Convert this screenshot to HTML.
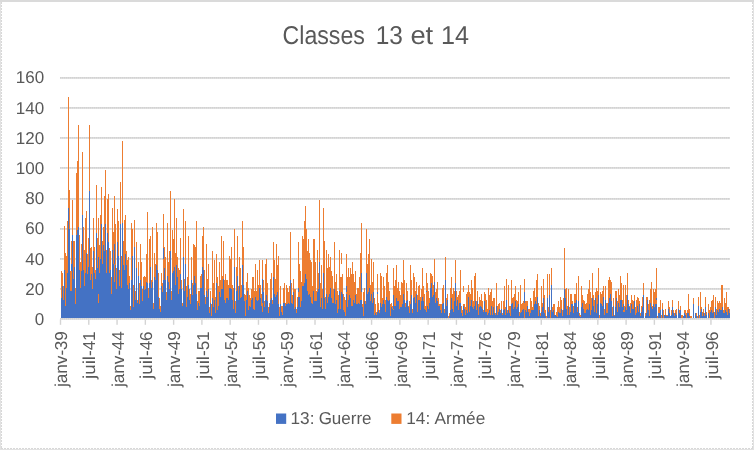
<!DOCTYPE html>
<html lang="fr"><head><meta charset="utf-8"><title>Classes 13 et 14</title>
<style>html,body{margin:0;padding:0;background:#fff}svg{display:block}text{font-family:"Liberation Sans", sans-serif;fill:#595959}</style></head><body>
<svg width="754" height="450" viewBox="0 0 754 450" shape-rendering="crispEdges">
<rect x="0" y="0" width="754" height="450" fill="#fff"/>
<defs><pattern id="dot" x="0" y="0" width="2" height="2" patternUnits="userSpaceOnUse"><rect x="0" y="0" width="1" height="1" fill="#D2D2D2"/><rect x="1" y="0" width="1" height="1" fill="#DBDBDB"/><rect x="0" y="1" width="1" height="1" fill="#DADADA"/><rect x="1" y="1" width="1" height="1" fill="#E1E1E1"/></pattern><pattern id="dotv" x="0" y="0" width="2" height="2" patternUnits="userSpaceOnUse"><rect x="0" y="0" width="1" height="1" fill="#D2D2D2"/><rect x="0" y="1" width="1" height="1" fill="#DBDBDB"/><rect x="1" y="0" width="1" height="1" fill="#DADADA"/><rect x="1" y="1" width="1" height="1" fill="#E1E1E1"/></pattern></defs>
<rect x="60" y="76" width="670" height="2" fill="url(#dot)" transform="translate(0 1)"/>
<rect x="60" y="106" width="670" height="2" fill="url(#dot)" transform="translate(0 1)"/>
<rect x="60" y="136" width="670" height="2" fill="url(#dot)" transform="translate(0 1)"/>
<rect x="60" y="166" width="670" height="2" fill="url(#dot)" transform="translate(0 1)"/>
<rect x="60" y="198" width="670" height="2" fill="url(#dot)"/>
<rect x="60" y="228" width="670" height="2" fill="url(#dot)"/>
<rect x="60" y="258" width="670" height="2" fill="url(#dot)"/>
<rect x="60" y="288" width="670" height="2" fill="url(#dot)"/>
<path fill="#4472C4" d="M61 298h1v20h-1zM62 292h1v26h-1zM62 286h1v6h-1zM63 300h1v18h-1zM64 292h1v26h-1zM64 270h1v22h-1zM65 306h1v12h-1zM66 292h1v26h-1zM66 288h1v4h-1zM67 292h1v26h-1zM67 273h1v19h-1zM68 292h1v26h-1zM68 264h1v28h-1zM68 236h1v28h-1zM68 208h1v28h-1zM69 292h1v26h-1zM69 264h1v28h-1zM69 236h1v28h-1zM69 229h1v7h-1zM70 292h1v26h-1zM70 291h1v1h-1zM71 292h1v26h-1zM71 291h1v1h-1zM71 264h1v7h-1zM72 292h1v26h-1zM72 264h1v28h-1zM72 236h1v28h-1zM72 235h1v1h-1zM73 292h1v26h-1zM73 279h1v13h-1zM74 292h1v26h-1zM74 267h1v25h-1zM75 304h1v14h-1zM76 292h1v26h-1zM76 264h1v28h-1zM76 236h1v28h-1zM76 235h1v1h-1zM77 292h1v26h-1zM77 264h1v28h-1zM77 236h1v28h-1zM77 230h1v6h-1zM78 292h1v26h-1zM78 264h1v28h-1zM78 236h1v28h-1zM78 227h1v9h-1zM79 292h1v26h-1zM79 270h1v22h-1zM80 292h1v26h-1zM80 288h1v4h-1zM81 292h1v26h-1zM81 271h1v21h-1zM82 292h1v26h-1zM82 264h1v28h-1zM82 236h1v28h-1zM82 215h1v21h-1zM83 292h1v26h-1zM83 270h1v22h-1zM84 292h1v26h-1zM84 286h1v6h-1zM85 292h1v26h-1zM85 273h1v19h-1zM86 292h1v26h-1zM86 264h1v28h-1zM86 253h1v11h-1zM87 292h1v26h-1zM87 274h1v18h-1zM88 292h1v26h-1zM88 267h1v25h-1zM89 292h1v26h-1zM89 264h1v28h-1zM89 236h1v28h-1zM89 208h1v28h-1zM89 191h1v17h-1zM90 292h1v26h-1zM90 280h1v12h-1zM91 292h1v26h-1zM91 274h1v18h-1zM92 292h1v26h-1zM92 289h1v3h-1zM93 292h1v26h-1zM93 264h1v28h-1zM93 251h1v13h-1zM94 292h1v26h-1zM94 273h1v19h-1zM95 292h1v26h-1zM95 279h1v13h-1zM96 292h1v26h-1zM96 264h1v28h-1zM96 236h1v28h-1zM96 233h1v3h-1zM97 292h1v26h-1zM97 268h1v24h-1zM98 303h1v15h-1zM98 292h1v2h-1zM98 264h1v28h-1zM98 257h1v7h-1zM99 292h1v26h-1zM99 273h1v19h-1zM100 292h1v26h-1zM100 264h1v28h-1zM100 259h1v5h-1zM101 292h1v26h-1zM101 264h1v28h-1zM101 236h1v28h-1zM101 224h1v12h-1zM102 292h1v26h-1zM102 264h1v28h-1zM103 292h1v26h-1zM103 264h1v28h-1zM103 245h1v19h-1zM104 292h1v26h-1zM104 264h1v28h-1zM104 251h1v13h-1zM105 292h1v26h-1zM105 264h1v28h-1zM105 236h1v28h-1zM105 224h1v12h-1zM106 292h1v26h-1zM106 273h1v19h-1zM107 292h1v26h-1zM107 264h1v28h-1zM107 236h1v28h-1zM107 233h1v3h-1zM108 292h1v26h-1zM108 264h1v28h-1zM108 242h1v22h-1zM109 292h1v26h-1zM109 273h1v19h-1zM110 292h1v26h-1zM110 270h1v22h-1zM111 294h1v24h-1zM112 292h1v26h-1zM112 264h1v28h-1zM112 250h1v14h-1zM113 292h1v26h-1zM113 264h1v28h-1zM114 292h1v26h-1zM114 282h1v10h-1zM114 244h1v20h-1zM115 292h1v26h-1zM115 265h1v27h-1zM116 292h1v26h-1zM116 289h1v3h-1zM117 292h1v26h-1zM117 264h1v28h-1zM117 242h1v22h-1zM118 292h1v26h-1zM118 264h1v28h-1zM118 256h1v8h-1zM119 292h1v26h-1zM119 286h1v6h-1zM120 292h1v26h-1zM120 264h1v28h-1zM120 236h1v28h-1zM120 224h1v12h-1zM121 292h1v26h-1zM121 288h1v4h-1zM122 292h1v26h-1zM122 264h1v28h-1zM122 236h1v28h-1zM122 223h1v13h-1zM123 292h1v26h-1zM123 265h1v27h-1zM124 292h1v26h-1zM124 270h1v22h-1zM125 292h1v26h-1zM125 264h1v28h-1zM125 254h1v10h-1zM126 292h1v26h-1zM126 265h1v27h-1zM127 292h1v26h-1zM127 285h1v7h-1zM128 292h1v26h-1zM128 289h1v3h-1zM129 292h1v26h-1zM129 283h1v9h-1zM130 310h1v8h-1zM131 292h1v26h-1zM131 280h1v12h-1zM132 292h1v26h-1zM132 264h1v28h-1zM132 256h1v8h-1zM133 307h1v11h-1zM134 292h1v26h-1zM134 264h1v28h-1zM134 247h1v17h-1zM135 300h1v18h-1zM136 292h1v26h-1zM136 268h1v24h-1zM137 303h1v15h-1zM138 292h1v26h-1zM138 276h1v16h-1zM139 304h1v14h-1zM140 292h1v26h-1zM140 280h1v12h-1zM141 292h1v26h-1zM141 286h1v6h-1zM142 301h1v17h-1zM143 292h1v26h-1zM143 286h1v6h-1zM144 292h1v26h-1zM144 290h1v2h-1zM145 292h1v26h-1zM145 289h1v3h-1zM146 292h1v26h-1zM146 282h1v10h-1zM147 292h1v26h-1zM147 283h1v9h-1zM148 298h1v20h-1zM149 292h1v26h-1zM149 283h1v9h-1zM150 292h1v26h-1zM150 267h1v25h-1zM151 292h1v26h-1zM151 288h1v4h-1zM152 292h1v26h-1zM152 282h1v10h-1zM153 309h1v9h-1zM154 292h1v26h-1zM154 277h1v15h-1zM155 292h1v26h-1zM155 280h1v12h-1zM156 292h1v26h-1zM156 265h1v27h-1zM157 292h1v26h-1zM157 270h1v22h-1zM158 297h1v21h-1zM159 309h1v9h-1zM160 312h1v6h-1zM161 292h1v26h-1zM161 286h1v6h-1zM162 292h1v26h-1zM163 292h1v26h-1zM163 280h1v12h-1zM163 248h1v11h-1zM164 292h1v26h-1zM164 268h1v24h-1zM165 292h1v26h-1zM165 280h1v12h-1zM166 300h1v18h-1zM167 292h1v26h-1zM167 276h1v16h-1zM168 292h1v26h-1zM168 282h1v10h-1zM169 292h1v26h-1zM169 289h1v3h-1zM170 292h1v26h-1zM170 264h1v28h-1zM170 251h1v13h-1zM171 300h1v18h-1zM172 292h1v26h-1zM172 273h1v19h-1zM173 292h1v26h-1zM173 271h1v21h-1zM174 292h1v26h-1zM174 267h1v25h-1zM175 292h1v26h-1zM175 285h1v7h-1zM176 292h1v26h-1zM176 265h1v27h-1zM177 292h1v26h-1zM177 277h1v15h-1zM178 294h1v24h-1zM179 292h1v26h-1zM179 289h1v3h-1zM180 292h1v26h-1zM180 274h1v18h-1zM181 292h1v26h-1zM181 289h1v3h-1zM182 306h1v12h-1zM183 292h1v26h-1zM183 264h1v28h-1zM183 257h1v7h-1zM184 292h1v26h-1zM184 291h1v1h-1zM185 292h1v26h-1zM185 264h1v28h-1zM186 307h1v11h-1zM187 297h1v21h-1zM188 292h1v26h-1zM188 285h1v7h-1zM189 300h1v18h-1zM190 304h1v14h-1zM191 292h1v26h-1zM191 280h1v12h-1zM192 295h1v23h-1zM193 292h1v26h-1zM193 285h1v7h-1zM194 292h1v26h-1zM194 276h1v16h-1zM195 292h1v26h-1zM195 283h1v9h-1zM196 294h1v24h-1zM197 310h1v8h-1zM198 303h1v15h-1zM199 306h1v12h-1zM200 292h1v26h-1zM200 288h1v4h-1zM201 292h1v26h-1zM201 288h1v4h-1zM202 292h1v26h-1zM202 267h1v25h-1zM203 292h1v26h-1zM203 270h1v22h-1zM204 295h1v23h-1zM205 304h1v14h-1zM206 292h1v26h-1zM206 291h1v1h-1zM207 297h1v21h-1zM208 292h1v26h-1zM208 289h1v3h-1zM209 313h1v5h-1zM210 303h1v15h-1zM211 316h1v2h-1zM212 298h1v20h-1zM213 307h1v11h-1zM214 300h1v18h-1zM215 313h1v5h-1zM216 292h1v26h-1zM216 283h1v9h-1zM217 310h1v8h-1zM218 306h1v12h-1zM219 292h1v26h-1zM220 297h1v21h-1zM221 292h1v26h-1zM221 289h1v3h-1zM222 292h1v26h-1zM222 289h1v3h-1zM223 292h1v26h-1zM223 279h1v13h-1zM224 300h1v18h-1zM225 303h1v15h-1zM226 298h1v20h-1zM227 298h1v20h-1zM228 300h1v18h-1zM229 292h1v26h-1zM229 288h1v4h-1zM230 292h1v26h-1zM230 288h1v4h-1zM231 292h1v26h-1zM231 289h1v3h-1zM232 300h1v18h-1zM233 309h1v9h-1zM234 292h1v26h-1zM234 267h1v25h-1zM235 313h1v5h-1zM236 292h1v26h-1zM236 291h1v1h-1zM237 292h1v26h-1zM237 276h1v16h-1zM238 300h1v18h-1zM239 292h1v26h-1zM239 286h1v6h-1zM240 298h1v20h-1zM241 297h1v21h-1zM242 292h1v26h-1zM242 265h1v27h-1zM243 292h1v26h-1zM243 285h1v7h-1zM244 301h1v17h-1zM245 316h1v2h-1zM246 300h1v18h-1zM247 292h1v26h-1zM247 291h1v1h-1zM248 310h1v8h-1zM249 306h1v12h-1zM250 307h1v11h-1zM251 300h1v18h-1zM252 298h1v20h-1zM253 309h1v9h-1zM254 310h1v8h-1zM255 297h1v21h-1zM256 300h1v18h-1zM257 301h1v17h-1zM258 300h1v18h-1zM259 292h1v26h-1zM259 288h1v4h-1zM260 298h1v20h-1zM261 306h1v12h-1zM262 312h1v6h-1zM262 292h1v11h-1zM262 279h1v13h-1zM263 292h1v26h-1zM264 307h1v11h-1zM265 300h1v18h-1zM266 295h1v23h-1zM267 301h1v17h-1zM268 313h1v5h-1zM269 307h1v11h-1zM270 300h1v18h-1zM271 298h1v20h-1zM272 304h1v14h-1zM273 292h1v26h-1zM273 277h1v15h-1zM274 294h1v24h-1zM275 297h1v21h-1zM276 295h1v23h-1zM277 292h1v26h-1zM278 304h1v14h-1zM279 316h1v2h-1zM280 304h1v14h-1zM281 312h1v6h-1zM282 315h1v3h-1zM283 303h1v15h-1zM284 303h1v15h-1zM285 306h1v12h-1zM286 304h1v14h-1zM287 304h1v14h-1zM288 303h1v15h-1zM289 304h1v14h-1zM290 292h1v26h-1zM290 280h1v12h-1zM291 303h1v15h-1zM292 304h1v14h-1zM293 292h1v26h-1zM294 309h1v9h-1zM295 307h1v11h-1zM296 313h1v5h-1zM297 307h1v11h-1zM298 297h1v21h-1zM298 288h1v4h-1zM299 297h1v21h-1zM300 307h1v11h-1zM301 301h1v17h-1zM302 292h1v26h-1zM302 286h1v6h-1zM303 292h1v26h-1zM303 286h1v6h-1zM304 292h1v26h-1zM304 283h1v9h-1zM305 292h1v26h-1zM305 274h1v18h-1zM306 292h1v26h-1zM306 279h1v13h-1zM307 292h1v26h-1zM307 291h1v1h-1zM308 295h1v23h-1zM309 294h1v24h-1zM310 297h1v21h-1zM311 303h1v15h-1zM312 304h1v14h-1zM313 292h1v26h-1zM313 291h1v1h-1zM314 301h1v17h-1zM315 301h1v17h-1zM316 301h1v17h-1zM317 292h1v26h-1zM318 292h1v26h-1zM318 289h1v3h-1zM319 292h1v26h-1zM319 264h1v28h-1zM319 262h1v2h-1zM320 307h1v11h-1zM321 298h1v20h-1zM322 309h1v9h-1zM323 292h1v26h-1zM323 273h1v19h-1zM324 298h1v20h-1zM325 309h1v9h-1zM326 294h1v24h-1zM327 303h1v15h-1zM328 297h1v21h-1zM329 294h1v24h-1zM330 292h1v26h-1zM330 288h1v4h-1zM331 298h1v20h-1zM332 303h1v15h-1zM333 303h1v15h-1zM334 292h1v26h-1zM334 289h1v3h-1zM335 304h1v14h-1zM336 300h1v18h-1zM337 313h1v5h-1zM338 309h1v9h-1zM339 292h1v26h-1zM339 291h1v1h-1zM340 309h1v9h-1zM341 292h1v26h-1zM342 294h1v24h-1zM343 310h1v8h-1zM344 312h1v6h-1zM345 316h1v2h-1zM346 294h1v24h-1zM346 286h1v6h-1zM347 307h1v11h-1zM348 300h1v18h-1zM349 295h1v23h-1zM350 298h1v20h-1zM351 306h1v12h-1zM352 306h1v12h-1zM353 300h1v18h-1zM354 303h1v15h-1zM355 295h1v23h-1zM356 304h1v14h-1zM357 304h1v14h-1zM358 303h1v15h-1zM359 304h1v14h-1zM360 300h1v18h-1zM361 300h1v18h-1zM361 273h1v19h-1zM362 307h1v11h-1zM363 316h1v2h-1zM364 301h1v17h-1zM365 304h1v14h-1zM366 292h1v26h-1zM366 273h1v19h-1zM367 294h1v24h-1zM368 292h1v26h-1zM369 292h1v26h-1zM369 288h1v4h-1zM370 301h1v17h-1zM371 294h1v24h-1zM372 303h1v15h-1zM373 292h1v26h-1zM374 315h1v3h-1zM375 313h1v5h-1zM376 315h1v3h-1zM377 312h1v6h-1zM377 292h1v2h-1zM378 310h1v8h-1zM379 313h1v5h-1zM380 303h1v15h-1zM381 307h1v11h-1zM382 304h1v14h-1zM383 300h1v18h-1zM384 304h1v14h-1zM385 312h1v6h-1zM386 297h1v21h-1zM387 300h1v18h-1zM388 301h1v17h-1zM389 300h1v18h-1zM390 316h1v2h-1zM391 307h1v11h-1zM392 309h1v9h-1zM393 310h1v8h-1zM393 295h1v14h-1zM394 306h1v12h-1zM395 306h1v12h-1zM396 298h1v20h-1zM397 301h1v17h-1zM398 301h1v17h-1zM399 309h1v9h-1zM400 307h1v11h-1zM401 307h1v11h-1zM402 304h1v14h-1zM403 294h1v24h-1zM404 300h1v18h-1zM405 307h1v11h-1zM406 301h1v17h-1zM407 300h1v18h-1zM408 307h1v11h-1zM409 313h1v5h-1zM410 304h1v14h-1zM411 295h1v23h-1zM412 313h1v5h-1zM413 298h1v20h-1zM414 297h1v21h-1zM415 303h1v15h-1zM416 294h1v24h-1zM417 312h1v6h-1zM418 300h1v18h-1zM419 300h1v18h-1zM420 310h1v8h-1zM421 301h1v17h-1zM422 297h1v21h-1zM423 301h1v17h-1zM424 309h1v9h-1zM425 310h1v8h-1zM426 312h1v6h-1zM426 291h1v1h-1zM427 306h1v12h-1zM428 309h1v9h-1zM429 303h1v15h-1zM430 292h1v26h-1zM430 288h1v4h-1zM431 292h1v26h-1zM431 283h1v9h-1zM432 297h1v21h-1zM433 295h1v23h-1zM434 292h1v26h-1zM434 282h1v10h-1zM435 303h1v15h-1zM436 298h1v20h-1zM437 301h1v17h-1zM438 306h1v12h-1zM439 306h1v12h-1zM440 310h1v8h-1zM441 313h1v5h-1zM442 304h1v14h-1zM443 303h1v15h-1zM444 313h1v5h-1zM445 292h1v26h-1zM445 280h1v12h-1zM446 306h1v12h-1zM447 300h1v18h-1zM449 316h1v2h-1zM450 310h1v8h-1zM451 298h1v20h-1zM452 309h1v9h-1zM453 312h1v6h-1zM454 301h1v17h-1zM455 292h1v26h-1zM455 283h1v9h-1zM456 306h1v12h-1zM457 300h1v18h-1zM458 310h1v8h-1zM459 303h1v15h-1zM460 303h1v15h-1zM461 313h1v5h-1zM462 316h1v2h-1zM463 306h1v12h-1zM464 309h1v9h-1zM465 315h1v3h-1zM466 310h1v8h-1zM467 313h1v5h-1zM468 297h1v21h-1zM469 312h1v6h-1zM470 306h1v12h-1zM471 300h1v18h-1zM472 307h1v11h-1zM473 309h1v9h-1zM474 306h1v12h-1zM475 301h1v17h-1zM476 310h1v8h-1zM477 301h1v17h-1zM478 315h1v3h-1zM479 307h1v11h-1zM480 306h1v12h-1zM481 307h1v11h-1zM482 309h1v9h-1zM483 312h1v6h-1zM484 301h1v17h-1zM485 312h1v6h-1zM486 312h1v6h-1zM487 315h1v3h-1zM488 313h1v5h-1zM489 310h1v8h-1zM490 315h1v3h-1zM491 306h1v12h-1zM492 315h1v3h-1zM493 307h1v11h-1zM494 313h1v5h-1zM495 315h1v3h-1zM496 306h1v12h-1zM497 315h1v3h-1zM498 312h1v6h-1zM499 309h1v9h-1zM500 313h1v5h-1zM501 309h1v9h-1zM502 315h1v3h-1zM503 310h1v8h-1zM504 309h1v9h-1zM505 315h1v3h-1zM506 300h1v18h-1zM507 313h1v5h-1zM508 310h1v8h-1zM509 313h1v5h-1zM510 316h1v2h-1zM511 304h1v14h-1zM512 303h1v15h-1zM513 309h1v9h-1zM514 307h1v11h-1zM515 301h1v17h-1zM516 309h1v9h-1zM517 307h1v11h-1zM518 304h1v14h-1zM519 316h1v2h-1zM520 313h1v5h-1zM521 312h1v6h-1zM522 310h1v8h-1zM523 309h1v9h-1zM524 292h1v11h-1zM525 310h1v8h-1zM526 312h1v6h-1zM527 306h1v12h-1zM528 312h1v6h-1zM529 316h1v2h-1zM530 313h1v5h-1zM531 310h1v8h-1zM532 310h1v8h-1zM533 310h1v8h-1zM534 304h1v14h-1zM535 301h1v17h-1zM536 304h1v14h-1zM537 297h1v21h-1zM538 316h1v2h-1zM539 310h1v8h-1zM540 316h1v2h-1zM541 312h1v6h-1zM542 307h1v11h-1zM543 298h1v20h-1zM544 313h1v5h-1zM545 316h1v2h-1zM547 298h1v20h-1zM548 312h1v6h-1zM549 295h1v23h-1zM551 292h1v26h-1zM551 285h1v7h-1zM552 312h1v6h-1zM553 310h1v8h-1zM554 315h1v3h-1zM555 315h1v3h-1zM556 316h1v2h-1zM557 317h1v1h-1zM558 312h1v6h-1zM559 313h1v5h-1zM560 313h1v5h-1zM561 309h1v9h-1zM562 316h1v2h-1zM563 310h1v8h-1zM564 292h1v26h-1zM564 289h1v3h-1zM565 298h1v20h-1zM566 309h1v9h-1zM567 315h1v3h-1zM568 306h1v12h-1zM569 315h1v3h-1zM570 312h1v6h-1zM571 304h1v14h-1zM572 304h1v14h-1zM573 313h1v5h-1zM574 303h1v15h-1zM575 303h1v15h-1zM576 300h1v18h-1zM577 312h1v6h-1zM578 301h1v17h-1zM579 316h1v2h-1zM580 317h1v1h-1zM581 307h1v11h-1zM582 303h1v15h-1zM583 309h1v9h-1zM584 313h1v5h-1zM585 313h1v5h-1zM586 310h1v8h-1zM587 309h1v9h-1zM588 310h1v8h-1zM589 304h1v14h-1zM590 315h1v3h-1zM591 310h1v8h-1zM592 298h1v20h-1zM593 306h1v12h-1zM594 312h1v6h-1zM595 298h1v20h-1zM596 313h1v5h-1zM597 304h1v14h-1zM598 295h1v23h-1zM600 303h1v15h-1zM601 304h1v14h-1zM602 306h1v12h-1zM603 297h1v21h-1zM604 315h1v3h-1zM605 300h1v18h-1zM606 313h1v5h-1zM607 313h1v5h-1zM608 303h1v15h-1zM609 298h1v20h-1zM610 294h1v24h-1zM611 301h1v17h-1zM612 316h1v2h-1zM613 306h1v12h-1zM614 316h1v2h-1zM615 307h1v11h-1zM616 298h1v20h-1zM617 312h1v6h-1zM618 303h1v15h-1zM619 307h1v11h-1zM620 300h1v18h-1zM621 300h1v18h-1zM622 307h1v11h-1zM623 312h1v6h-1zM623 304h1v6h-1zM624 312h1v6h-1zM625 307h1v11h-1zM626 310h1v8h-1zM627 295h1v23h-1zM628 304h1v14h-1zM629 307h1v11h-1zM630 313h1v5h-1zM631 304h1v14h-1zM632 309h1v9h-1zM633 309h1v9h-1zM634 301h1v17h-1zM635 315h1v3h-1zM636 313h1v5h-1zM637 306h1v12h-1zM638 312h1v6h-1zM639 304h1v14h-1zM640 316h1v2h-1zM641 312h1v6h-1zM642 307h1v11h-1zM643 295h1v23h-1zM645 316h1v2h-1zM646 313h1v5h-1zM647 300h1v18h-1zM648 310h1v8h-1zM649 316h1v2h-1zM650 303h1v15h-1zM651 307h1v11h-1zM652 309h1v9h-1zM653 304h1v14h-1zM654 307h1v11h-1zM655 304h1v14h-1zM656 304h1v14h-1zM656 298h1v2h-1zM658 313h1v5h-1zM659 313h1v5h-1zM660 310h1v8h-1zM662 309h1v9h-1zM664 315h1v3h-1zM665 315h1v3h-1zM666 316h1v2h-1zM667 316h1v2h-1zM668 309h1v9h-1zM669 313h1v5h-1zM670 316h1v2h-1zM671 315h1v3h-1zM672 307h1v11h-1zM673 313h1v5h-1zM674 316h1v2h-1zM675 313h1v5h-1zM676 315h1v3h-1zM678 309h1v9h-1zM679 313h1v5h-1zM680 310h1v8h-1zM683 316h1v2h-1zM684 313h1v5h-1zM685 315h1v3h-1zM687 313h1v5h-1zM688 313h1v5h-1zM689 316h1v2h-1zM693 304h1v14h-1zM695 313h1v5h-1zM696 316h1v2h-1zM698 306h1v12h-1zM700 312h1v6h-1zM701 309h1v9h-1zM702 316h1v2h-1zM703 313h1v5h-1zM704 316h1v2h-1zM705 307h1v11h-1zM706 315h1v3h-1zM708 313h1v5h-1zM710 312h1v6h-1zM711 310h1v8h-1zM712 313h1v5h-1zM713 312h1v6h-1zM715 307h1v11h-1zM716 315h1v3h-1zM717 310h1v8h-1zM718 312h1v6h-1zM719 309h1v9h-1zM720 310h1v8h-1zM721 310h1v8h-1zM722 307h1v11h-1zM723 313h1v5h-1zM724 313h1v5h-1zM725 310h1v8h-1zM726 312h1v6h-1zM727 315h1v3h-1zM728 309h1v9h-1zM729 313h1v5h-1z"/>
<path fill="#ED7D31" d="M61 292h1v6h-1zM61 271h1v21h-1zM62 273h1v13h-1zM63 292h1v8h-1zM63 286h1v6h-1zM64 264h1v6h-1zM64 236h1v28h-1zM64 226h1v10h-1zM65 292h1v14h-1zM65 264h1v28h-1zM65 253h1v11h-1zM66 264h1v24h-1zM66 256h1v8h-1zM67 264h1v9h-1zM67 236h1v28h-1zM67 221h1v15h-1zM68 180h1v28h-1zM68 124h1v56h-1zM68 97h1v27h-1zM69 208h1v21h-1zM69 190h1v18h-1zM70 271h1v20h-1zM71 271h1v20h-1zM71 241h1v23h-1zM72 208h1v27h-1zM72 200h1v8h-1zM73 264h1v15h-1zM73 241h1v23h-1zM74 264h1v3h-1zM74 241h1v23h-1zM75 292h1v12h-1zM75 288h1v4h-1zM76 208h1v27h-1zM76 180h1v28h-1zM76 173h1v7h-1zM77 208h1v22h-1zM77 180h1v28h-1zM77 161h1v19h-1zM78 208h1v19h-1zM78 180h1v28h-1zM78 125h1v55h-1zM79 264h1v6h-1zM79 236h1v28h-1zM79 235h1v1h-1zM80 264h1v24h-1zM80 262h1v2h-1zM81 264h1v7h-1zM81 244h1v20h-1zM82 208h1v7h-1zM82 180h1v28h-1zM82 152h1v28h-1zM83 264h1v6h-1zM83 236h1v28h-1zM83 227h1v9h-1zM84 264h1v22h-1zM84 250h1v14h-1zM85 264h1v9h-1zM85 236h1v28h-1zM85 218h1v18h-1zM86 236h1v17h-1zM86 211h1v25h-1zM87 264h1v10h-1zM87 254h1v10h-1zM88 264h1v3h-1zM88 238h1v26h-1zM89 180h1v11h-1zM89 125h1v55h-1zM90 264h1v16h-1zM90 248h1v16h-1zM91 264h1v10h-1zM91 247h1v17h-1zM92 267h1v22h-1zM93 236h1v15h-1zM93 218h1v18h-1zM94 264h1v9h-1zM94 247h1v17h-1zM95 270h1v9h-1zM96 208h1v25h-1zM96 185h1v23h-1zM97 264h1v4h-1zM97 238h1v26h-1zM98 294h1v9h-1zM98 236h1v21h-1zM98 218h1v18h-1zM99 264h1v9h-1zM99 245h1v19h-1zM100 236h1v23h-1zM100 215h1v21h-1zM101 208h1v16h-1zM101 187h1v21h-1zM102 241h1v23h-1zM103 236h1v9h-1zM103 227h1v9h-1zM104 236h1v15h-1zM104 208h1v28h-1zM104 196h1v12h-1zM105 208h1v16h-1zM105 180h1v28h-1zM105 170h1v10h-1zM106 264h1v9h-1zM106 250h1v14h-1zM107 208h1v25h-1zM107 199h1v9h-1zM108 236h1v6h-1zM108 208h1v28h-1zM108 194h1v14h-1zM109 264h1v9h-1zM109 248h1v16h-1zM110 264h1v6h-1zM110 251h1v13h-1zM111 292h1v2h-1zM111 277h1v15h-1zM112 236h1v14h-1zM112 208h1v28h-1zM113 236h1v28h-1zM113 232h1v4h-1zM114 264h1v18h-1zM114 236h1v8h-1zM114 208h1v28h-1zM114 196h1v12h-1zM115 264h1v1h-1zM115 236h1v28h-1zM115 224h1v12h-1zM116 268h1v21h-1zM117 236h1v6h-1zM117 209h1v27h-1zM118 236h1v20h-1zM118 221h1v15h-1zM119 270h1v16h-1zM120 208h1v16h-1zM120 182h1v26h-1zM121 264h1v24h-1zM121 256h1v8h-1zM122 208h1v15h-1zM122 180h1v28h-1zM122 141h1v39h-1zM123 264h1v1h-1zM123 241h1v23h-1zM124 264h1v6h-1zM124 236h1v28h-1zM124 220h1v16h-1zM125 236h1v18h-1zM125 215h1v21h-1zM126 264h1v1h-1zM126 251h1v13h-1zM127 264h1v21h-1zM127 260h1v4h-1zM128 264h1v25h-1zM128 257h1v7h-1zM129 276h1v7h-1zM130 306h1v4h-1zM131 264h1v16h-1zM131 236h1v28h-1zM131 223h1v13h-1zM132 236h1v20h-1zM132 229h1v7h-1zM133 292h1v15h-1zM133 285h1v7h-1zM134 236h1v11h-1zM134 220h1v16h-1zM135 292h1v8h-1zM135 291h1v1h-1zM136 264h1v4h-1zM136 242h1v22h-1zM137 300h1v3h-1zM138 264h1v12h-1zM138 262h1v2h-1zM139 292h1v12h-1zM139 283h1v9h-1zM140 264h1v16h-1zM140 244h1v20h-1zM141 264h1v22h-1zM141 262h1v2h-1zM142 292h1v9h-1zM142 289h1v3h-1zM143 277h1v9h-1zM144 276h1v14h-1zM145 277h1v12h-1zM146 264h1v18h-1zM146 254h1v10h-1zM147 264h1v19h-1zM147 236h1v28h-1zM147 212h1v24h-1zM148 292h1v6h-1zM148 288h1v4h-1zM149 264h1v19h-1zM149 239h1v25h-1zM150 264h1v3h-1zM150 236h1v28h-1zM151 280h1v8h-1zM152 264h1v18h-1zM152 236h1v28h-1zM152 227h1v9h-1zM153 303h1v6h-1zM154 264h1v13h-1zM154 253h1v11h-1zM155 264h1v16h-1zM156 264h1v1h-1zM156 236h1v28h-1zM156 223h1v13h-1zM157 264h1v6h-1zM157 236h1v28h-1zM157 232h1v4h-1zM158 292h1v5h-1zM158 273h1v19h-1zM159 298h1v11h-1zM160 306h1v6h-1zM161 273h1v13h-1zM162 283h1v9h-1zM163 264h1v16h-1zM163 259h1v5h-1zM163 236h1v12h-1zM163 214h1v22h-1zM164 264h1v4h-1zM164 247h1v17h-1zM165 264h1v16h-1zM165 257h1v7h-1zM166 292h1v8h-1zM167 264h1v12h-1zM167 236h1v28h-1zM167 223h1v13h-1zM168 264h1v18h-1zM168 262h1v2h-1zM169 264h1v25h-1zM169 251h1v13h-1zM170 236h1v15h-1zM170 191h1v45h-1zM171 292h1v8h-1zM171 291h1v1h-1zM172 264h1v9h-1zM172 236h1v28h-1zM172 230h1v6h-1zM173 264h1v7h-1zM173 239h1v25h-1zM174 264h1v3h-1zM174 236h1v28h-1zM174 199h1v37h-1zM175 264h1v21h-1zM175 253h1v11h-1zM176 264h1v1h-1zM176 236h1v28h-1zM176 218h1v18h-1zM177 264h1v13h-1zM177 257h1v7h-1zM178 292h1v2h-1zM178 268h1v24h-1zM179 270h1v19h-1zM180 264h1v10h-1zM180 238h1v26h-1zM181 280h1v9h-1zM182 303h1v3h-1zM183 236h1v21h-1zM183 209h1v27h-1zM184 279h1v12h-1zM185 236h1v28h-1zM185 221h1v15h-1zM186 292h1v15h-1zM186 286h1v6h-1zM187 292h1v5h-1zM187 277h1v15h-1zM188 264h1v21h-1zM188 236h1v28h-1zM189 292h1v8h-1zM189 289h1v3h-1zM190 294h1v10h-1zM191 264h1v16h-1zM191 257h1v7h-1zM192 292h1v3h-1zM192 283h1v9h-1zM193 264h1v21h-1zM193 244h1v20h-1zM194 264h1v12h-1zM194 245h1v19h-1zM195 264h1v19h-1zM195 247h1v17h-1zM196 292h1v2h-1zM196 264h1v28h-1zM196 236h1v28h-1zM196 221h1v15h-1zM197 301h1v9h-1zM198 292h1v11h-1zM198 291h1v1h-1zM199 292h1v14h-1zM199 291h1v1h-1zM200 276h1v12h-1zM201 274h1v14h-1zM202 264h1v3h-1zM202 236h1v28h-1zM203 264h1v6h-1zM203 236h1v28h-1zM203 227h1v9h-1zM204 292h1v3h-1zM204 270h1v22h-1zM205 297h1v7h-1zM206 264h1v27h-1zM206 244h1v20h-1zM207 292h1v5h-1zM207 279h1v13h-1zM208 264h1v25h-1zM209 307h1v6h-1zM210 292h1v11h-1zM210 291h1v1h-1zM211 304h1v12h-1zM212 292h1v6h-1zM212 264h1v28h-1zM212 251h1v13h-1zM213 292h1v15h-1zM213 283h1v9h-1zM214 292h1v8h-1zM214 264h1v28h-1zM214 260h1v4h-1zM215 297h1v16h-1zM216 264h1v19h-1zM216 254h1v10h-1zM217 292h1v18h-1zM217 277h1v15h-1zM218 292h1v14h-1zM218 286h1v6h-1zM219 264h1v28h-1zM219 262h1v2h-1zM220 292h1v5h-1zM220 280h1v12h-1zM221 264h1v25h-1zM221 236h1v28h-1zM222 276h1v13h-1zM223 264h1v15h-1zM223 241h1v23h-1zM224 292h1v8h-1zM224 280h1v12h-1zM225 292h1v11h-1zM225 274h1v18h-1zM226 292h1v6h-1zM226 280h1v12h-1zM227 292h1v6h-1zM227 280h1v12h-1zM228 292h1v8h-1zM228 285h1v7h-1zM229 264h1v24h-1zM229 256h1v8h-1zM230 264h1v24h-1zM230 259h1v5h-1zM231 264h1v25h-1zM231 247h1v17h-1zM232 292h1v8h-1zM232 285h1v7h-1zM233 292h1v17h-1zM233 288h1v4h-1zM234 264h1v3h-1zM234 236h1v28h-1zM234 229h1v7h-1zM235 301h1v12h-1zM236 267h1v24h-1zM237 264h1v12h-1zM237 236h1v28h-1zM238 292h1v8h-1zM238 286h1v6h-1zM239 264h1v22h-1zM239 257h1v7h-1zM240 292h1v6h-1zM240 268h1v24h-1zM241 292h1v5h-1zM241 285h1v7h-1zM242 264h1v1h-1zM242 236h1v28h-1zM242 221h1v15h-1zM243 264h1v21h-1zM243 247h1v17h-1zM244 294h1v7h-1zM245 295h1v21h-1zM246 292h1v8h-1zM246 282h1v10h-1zM247 273h1v18h-1zM248 292h1v18h-1zM248 288h1v4h-1zM249 295h1v11h-1zM250 298h1v9h-1zM251 292h1v8h-1zM251 289h1v3h-1zM252 292h1v6h-1zM252 277h1v15h-1zM253 292h1v17h-1zM253 277h1v15h-1zM254 292h1v18h-1zM254 291h1v1h-1zM255 292h1v5h-1zM255 264h1v28h-1zM256 292h1v8h-1zM256 291h1v1h-1zM257 292h1v9h-1zM257 270h1v22h-1zM258 292h1v8h-1zM258 285h1v7h-1zM259 264h1v24h-1zM259 260h1v4h-1zM260 292h1v6h-1zM260 285h1v7h-1zM261 294h1v12h-1zM262 303h1v9h-1zM262 264h1v15h-1zM262 260h1v4h-1zM263 280h1v12h-1zM264 301h1v6h-1zM265 292h1v8h-1zM265 264h1v28h-1zM266 292h1v3h-1zM266 264h1v28h-1zM266 259h1v5h-1zM267 292h1v9h-1zM267 283h1v9h-1zM268 307h1v6h-1zM269 303h1v4h-1zM270 292h1v8h-1zM270 279h1v13h-1zM271 292h1v6h-1zM271 273h1v19h-1zM272 300h1v4h-1zM273 264h1v13h-1zM273 242h1v22h-1zM274 292h1v2h-1zM274 264h1v28h-1zM274 260h1v4h-1zM275 292h1v5h-1zM275 279h1v13h-1zM276 292h1v3h-1zM276 264h1v28h-1zM276 244h1v20h-1zM277 265h1v27h-1zM278 292h1v12h-1zM278 264h1v28h-1zM278 256h1v8h-1zM279 307h1v9h-1zM280 292h1v12h-1zM280 286h1v6h-1zM281 306h1v6h-1zM282 306h1v9h-1zM283 292h1v11h-1zM283 288h1v4h-1zM284 292h1v11h-1zM284 283h1v9h-1zM285 303h1v3h-1zM286 292h1v12h-1zM286 285h1v7h-1zM287 292h1v12h-1zM287 288h1v4h-1zM288 292h1v11h-1zM289 292h1v12h-1zM289 286h1v6h-1zM290 264h1v16h-1zM290 232h1v32h-1zM291 292h1v11h-1zM291 283h1v9h-1zM292 295h1v9h-1zM293 279h1v13h-1zM294 292h1v17h-1zM294 289h1v3h-1zM295 292h1v15h-1zM295 289h1v3h-1zM296 309h1v4h-1zM297 297h1v10h-1zM298 292h1v5h-1zM298 264h1v24h-1zM298 242h1v22h-1zM299 292h1v5h-1zM299 264h1v28h-1zM300 292h1v15h-1zM300 271h1v21h-1zM301 292h1v9h-1zM301 282h1v10h-1zM302 264h1v22h-1zM302 236h1v28h-1zM303 264h1v22h-1zM303 239h1v25h-1zM304 264h1v19h-1zM304 221h1v43h-1zM305 264h1v10h-1zM305 208h1v56h-1zM305 206h1v2h-1zM306 264h1v15h-1zM306 229h1v35h-1zM307 264h1v27h-1zM307 251h1v13h-1zM308 292h1v3h-1zM308 264h1v28h-1zM308 239h1v25h-1zM309 292h1v2h-1zM309 264h1v28h-1zM309 253h1v11h-1zM310 292h1v5h-1zM310 264h1v28h-1zM310 260h1v4h-1zM311 292h1v11h-1zM311 264h1v28h-1zM311 262h1v2h-1zM312 292h1v12h-1zM312 286h1v6h-1zM313 264h1v27h-1zM313 239h1v25h-1zM314 292h1v9h-1zM314 264h1v28h-1zM314 239h1v25h-1zM315 292h1v9h-1zM315 264h1v28h-1zM315 262h1v2h-1zM316 292h1v9h-1zM316 291h1v1h-1zM317 264h1v28h-1zM317 250h1v14h-1zM318 273h1v16h-1zM319 208h1v54h-1zM319 200h1v8h-1zM320 292h1v15h-1zM320 283h1v9h-1zM321 292h1v6h-1zM321 265h1v27h-1zM322 292h1v17h-1zM322 289h1v3h-1zM323 264h1v9h-1zM323 208h1v56h-1zM324 292h1v6h-1zM324 264h1v28h-1zM324 241h1v23h-1zM325 297h1v12h-1zM326 292h1v2h-1zM326 264h1v28h-1zM326 250h1v14h-1zM327 292h1v11h-1zM327 268h1v24h-1zM328 292h1v5h-1zM328 264h1v28h-1zM328 254h1v10h-1zM329 292h1v2h-1zM329 267h1v25h-1zM330 264h1v24h-1zM330 257h1v7h-1zM331 292h1v6h-1zM331 271h1v21h-1zM332 292h1v11h-1zM332 276h1v16h-1zM333 292h1v11h-1zM333 289h1v3h-1zM334 264h1v25h-1zM334 242h1v22h-1zM335 292h1v12h-1zM335 282h1v10h-1zM336 292h1v8h-1zM336 274h1v18h-1zM337 292h1v21h-1zM337 291h1v1h-1zM338 295h1v14h-1zM339 264h1v27h-1zM339 250h1v14h-1zM340 292h1v17h-1zM340 277h1v15h-1zM341 277h1v15h-1zM341 253h1v11h-1zM342 292h1v2h-1zM342 274h1v18h-1zM343 294h1v16h-1zM344 297h1v15h-1zM345 300h1v16h-1zM346 292h1v2h-1zM346 264h1v22h-1zM346 254h1v10h-1zM347 292h1v15h-1zM347 277h1v15h-1zM348 292h1v8h-1zM348 268h1v24h-1zM349 292h1v3h-1zM349 277h1v15h-1zM350 292h1v6h-1zM350 268h1v24h-1zM351 292h1v14h-1zM351 274h1v18h-1zM352 292h1v14h-1zM352 264h1v28h-1zM352 262h1v2h-1zM353 292h1v8h-1zM353 274h1v18h-1zM354 292h1v11h-1zM354 282h1v10h-1zM355 292h1v3h-1zM355 271h1v21h-1zM356 294h1v10h-1zM357 292h1v12h-1zM357 288h1v4h-1zM358 292h1v11h-1zM358 288h1v4h-1zM359 292h1v12h-1zM359 277h1v15h-1zM360 292h1v8h-1zM360 264h1v28h-1zM360 253h1v11h-1zM361 292h1v8h-1zM361 264h1v9h-1zM361 223h1v41h-1zM362 304h1v3h-1zM363 292h1v24h-1zM364 292h1v9h-1zM364 288h1v4h-1zM365 301h1v3h-1zM366 264h1v9h-1zM366 229h1v35h-1zM367 292h1v2h-1zM367 264h1v28h-1zM368 264h1v28h-1zM368 254h1v10h-1zM369 264h1v24h-1zM369 239h1v25h-1zM370 292h1v9h-1zM370 285h1v7h-1zM371 292h1v2h-1zM371 264h1v28h-1zM371 259h1v5h-1zM372 292h1v11h-1zM372 282h1v10h-1zM373 264h1v28h-1zM373 262h1v2h-1zM374 298h1v17h-1zM375 304h1v9h-1zM376 312h1v3h-1zM377 294h1v18h-1zM377 274h1v18h-1zM378 303h1v7h-1zM379 310h1v3h-1zM380 292h1v11h-1zM380 273h1v19h-1zM381 292h1v15h-1zM381 276h1v16h-1zM382 298h1v6h-1zM383 292h1v8h-1zM383 277h1v15h-1zM384 292h1v12h-1zM384 286h1v6h-1zM385 300h1v12h-1zM386 292h1v5h-1zM386 273h1v19h-1zM387 292h1v8h-1zM387 265h1v27h-1zM388 292h1v9h-1zM388 282h1v10h-1zM389 292h1v8h-1zM389 291h1v1h-1zM390 304h1v12h-1zM391 303h1v4h-1zM392 306h1v3h-1zM393 309h1v1h-1zM393 292h1v3h-1zM393 268h1v24h-1zM394 292h1v14h-1zM394 286h1v6h-1zM395 292h1v14h-1zM395 280h1v12h-1zM396 292h1v6h-1zM396 265h1v27h-1zM397 292h1v9h-1zM397 288h1v4h-1zM398 292h1v9h-1zM398 282h1v10h-1zM399 292h1v17h-1zM399 291h1v1h-1zM400 295h1v12h-1zM401 292h1v15h-1zM401 282h1v10h-1zM402 292h1v12h-1zM402 283h1v9h-1zM403 292h1v2h-1zM403 264h1v28h-1zM403 260h1v4h-1zM404 292h1v8h-1zM404 280h1v12h-1zM405 303h1v4h-1zM406 292h1v9h-1zM406 283h1v9h-1zM407 292h1v8h-1zM407 291h1v1h-1zM408 306h1v1h-1zM409 301h1v12h-1zM410 292h1v12h-1zM410 265h1v27h-1zM411 292h1v3h-1zM411 280h1v12h-1zM412 309h1v4h-1zM413 292h1v6h-1zM413 273h1v19h-1zM414 292h1v5h-1zM414 277h1v15h-1zM415 292h1v11h-1zM415 291h1v1h-1zM416 292h1v2h-1zM416 282h1v10h-1zM417 295h1v17h-1zM418 292h1v8h-1zM418 286h1v6h-1zM419 292h1v8h-1zM419 285h1v7h-1zM420 297h1v13h-1zM421 292h1v9h-1zM421 289h1v3h-1zM422 292h1v5h-1zM422 268h1v24h-1zM423 292h1v9h-1zM423 286h1v6h-1zM424 294h1v15h-1zM425 306h1v4h-1zM426 292h1v20h-1zM426 273h1v18h-1zM427 292h1v14h-1zM427 283h1v9h-1zM428 292h1v17h-1zM428 291h1v1h-1zM429 298h1v5h-1zM430 273h1v15h-1zM431 274h1v9h-1zM432 292h1v5h-1zM432 276h1v16h-1zM433 292h1v3h-1zM433 285h1v7h-1zM434 264h1v18h-1zM434 259h1v5h-1zM435 292h1v11h-1zM436 292h1v6h-1zM436 289h1v3h-1zM437 292h1v9h-1zM437 282h1v10h-1zM438 298h1v8h-1zM439 304h1v2h-1zM440 304h1v6h-1zM441 304h1v9h-1zM442 292h1v12h-1zM442 288h1v4h-1zM443 292h1v11h-1zM443 285h1v7h-1zM444 309h1v4h-1zM445 264h1v16h-1zM445 257h1v7h-1zM446 298h1v8h-1zM447 294h1v6h-1zM448 316h1v2h-1zM449 313h1v3h-1zM450 292h1v18h-1zM450 288h1v4h-1zM451 292h1v6h-1zM451 277h1v15h-1zM452 294h1v15h-1zM453 292h1v20h-1zM453 288h1v4h-1zM454 292h1v9h-1zM454 291h1v1h-1zM455 264h1v19h-1zM455 260h1v4h-1zM456 292h1v14h-1zM456 291h1v1h-1zM457 297h1v3h-1zM458 295h1v15h-1zM459 292h1v11h-1zM459 291h1v1h-1zM460 292h1v11h-1zM460 270h1v22h-1zM461 306h1v7h-1zM462 310h1v6h-1zM463 304h1v2h-1zM463 286h1v6h-1zM464 304h1v5h-1zM465 307h1v8h-1zM466 294h1v16h-1zM467 292h1v21h-1zM468 292h1v5h-1zM468 285h1v7h-1zM469 292h1v20h-1zM470 294h1v12h-1zM471 292h1v8h-1zM471 280h1v12h-1zM472 292h1v15h-1zM472 288h1v4h-1zM473 301h1v8h-1zM474 292h1v14h-1zM474 276h1v16h-1zM475 292h1v9h-1zM475 273h1v19h-1zM476 301h1v9h-1zM477 292h1v9h-1zM477 291h1v1h-1zM478 304h1v11h-1zM479 297h1v10h-1zM480 300h1v6h-1zM481 294h1v13h-1zM482 301h1v8h-1zM483 310h1v2h-1zM484 292h1v9h-1zM485 294h1v18h-1zM486 300h1v12h-1zM487 309h1v6h-1zM488 292h1v21h-1zM488 288h1v4h-1zM489 295h1v15h-1zM490 292h1v23h-1zM491 292h1v14h-1zM491 289h1v3h-1zM492 301h1v14h-1zM493 298h1v9h-1zM494 298h1v15h-1zM495 313h1v2h-1zM496 292h1v14h-1zM496 283h1v9h-1zM497 306h1v9h-1zM498 304h1v8h-1zM499 303h1v6h-1zM500 310h1v3h-1zM501 301h1v8h-1zM502 313h1v2h-1zM503 301h1v9h-1zM504 292h1v17h-1zM504 286h1v6h-1zM505 307h1v8h-1zM506 292h1v8h-1zM506 279h1v13h-1zM507 310h1v3h-1zM508 292h1v18h-1zM508 285h1v7h-1zM509 306h1v7h-1zM510 306h1v10h-1zM511 292h1v12h-1zM511 280h1v12h-1zM512 298h1v5h-1zM513 297h1v12h-1zM514 294h1v13h-1zM515 292h1v9h-1zM515 286h1v6h-1zM516 300h1v9h-1zM517 301h1v6h-1zM518 292h1v12h-1zM519 312h1v4h-1zM520 292h1v21h-1zM520 285h1v7h-1zM521 304h1v8h-1zM522 303h1v7h-1zM523 301h1v8h-1zM524 303h1v15h-1zM524 279h1v13h-1zM525 301h1v9h-1zM526 301h1v11h-1zM527 301h1v5h-1zM528 309h1v3h-1zM529 309h1v7h-1zM530 298h1v15h-1zM531 301h1v9h-1zM532 307h1v3h-1zM533 292h1v18h-1zM533 291h1v1h-1zM534 292h1v12h-1zM534 288h1v4h-1zM535 297h1v4h-1zM536 292h1v12h-1zM536 280h1v12h-1zM537 292h1v5h-1zM537 274h1v18h-1zM538 303h1v13h-1zM539 306h1v4h-1zM540 313h1v3h-1zM541 292h1v20h-1zM541 286h1v6h-1zM542 303h1v4h-1zM543 292h1v6h-1zM543 279h1v13h-1zM544 295h1v18h-1zM545 310h1v6h-1zM546 316h1v2h-1zM547 292h1v6h-1zM547 274h1v18h-1zM548 307h1v5h-1zM549 292h1v3h-1zM549 274h1v18h-1zM550 310h1v8h-1zM551 268h1v17h-1zM552 307h1v5h-1zM553 304h1v6h-1zM554 304h1v11h-1zM556 312h1v4h-1zM557 307h1v10h-1zM558 301h1v11h-1zM559 307h1v6h-1zM560 297h1v16h-1zM561 300h1v9h-1zM562 310h1v6h-1zM563 298h1v12h-1zM564 248h1v41h-1zM565 292h1v6h-1zM565 289h1v3h-1zM566 292h1v17h-1zM566 288h1v4h-1zM567 306h1v9h-1zM568 292h1v14h-1zM568 289h1v3h-1zM569 307h1v8h-1zM570 294h1v18h-1zM571 294h1v10h-1zM572 301h1v3h-1zM573 306h1v7h-1zM574 294h1v9h-1zM575 294h1v9h-1zM576 292h1v8h-1zM576 283h1v9h-1zM577 307h1v5h-1zM578 292h1v9h-1zM578 276h1v16h-1zM579 313h1v3h-1zM580 315h1v2h-1zM581 292h1v15h-1zM581 286h1v6h-1zM582 295h1v8h-1zM583 300h1v9h-1zM584 301h1v12h-1zM585 304h1v9h-1zM586 303h1v7h-1zM587 294h1v15h-1zM588 292h1v18h-1zM588 289h1v3h-1zM589 292h1v12h-1zM589 280h1v12h-1zM590 292h1v23h-1zM591 298h1v12h-1zM592 292h1v6h-1zM592 273h1v19h-1zM593 295h1v11h-1zM594 300h1v12h-1zM595 292h1v6h-1zM596 292h1v21h-1zM596 288h1v4h-1zM597 292h1v12h-1zM597 291h1v1h-1zM598 292h1v3h-1zM598 268h1v24h-1zM599 315h1v3h-1zM600 292h1v11h-1zM601 294h1v10h-1zM602 292h1v14h-1zM602 291h1v1h-1zM603 292h1v5h-1zM603 286h1v6h-1zM604 309h1v6h-1zM605 292h1v8h-1zM605 286h1v6h-1zM606 303h1v10h-1zM607 303h1v10h-1zM608 292h1v11h-1zM608 280h1v12h-1zM609 292h1v6h-1zM609 277h1v15h-1zM610 292h1v2h-1zM610 280h1v12h-1zM611 292h1v9h-1zM611 282h1v10h-1zM612 307h1v9h-1zM613 298h1v8h-1zM614 315h1v1h-1zM615 292h1v15h-1zM615 291h1v1h-1zM616 292h1v6h-1zM616 291h1v1h-1zM617 301h1v11h-1zM618 292h1v11h-1zM618 289h1v3h-1zM619 295h1v12h-1zM620 292h1v8h-1zM620 276h1v16h-1zM621 292h1v8h-1zM621 283h1v9h-1zM622 300h1v7h-1zM623 310h1v2h-1zM623 292h1v12h-1zM623 285h1v7h-1zM624 306h1v6h-1zM625 292h1v15h-1zM625 285h1v7h-1zM626 295h1v15h-1zM627 292h1v3h-1zM627 273h1v19h-1zM628 300h1v4h-1zM629 306h1v1h-1zM630 303h1v10h-1zM631 295h1v9h-1zM632 300h1v9h-1zM633 301h1v8h-1zM634 295h1v6h-1zM635 307h1v8h-1zM636 300h1v13h-1zM637 297h1v9h-1zM638 298h1v14h-1zM639 301h1v3h-1zM640 313h1v3h-1zM641 306h1v6h-1zM642 297h1v10h-1zM643 292h1v3h-1zM643 283h1v9h-1zM645 313h1v3h-1zM646 297h1v16h-1zM647 297h1v3h-1zM648 304h1v6h-1zM649 300h1v16h-1zM650 292h1v11h-1zM650 289h1v3h-1zM651 292h1v15h-1zM651 282h1v10h-1zM652 306h1v3h-1zM653 292h1v12h-1zM653 289h1v3h-1zM654 292h1v15h-1zM655 292h1v12h-1zM655 289h1v3h-1zM656 300h1v4h-1zM656 292h1v6h-1zM656 268h1v24h-1zM657 316h1v2h-1zM658 307h1v6h-1zM659 307h1v6h-1zM660 300h1v10h-1zM661 315h1v3h-1zM662 303h1v6h-1zM663 310h1v8h-1zM665 309h1v6h-1zM666 315h1v1h-1zM667 315h1v1h-1zM668 301h1v8h-1zM669 307h1v6h-1zM671 310h1v5h-1zM672 300h1v7h-1zM673 310h1v3h-1zM674 313h1v3h-1zM675 310h1v3h-1zM676 309h1v6h-1zM678 301h1v8h-1zM679 310h1v3h-1zM680 306h1v4h-1zM681 315h1v3h-1zM682 315h1v3h-1zM684 310h1v3h-1zM685 310h1v5h-1zM686 313h1v5h-1zM687 310h1v3h-1zM688 294h1v19h-1zM689 309h1v7h-1zM690 316h1v2h-1zM691 316h1v2h-1zM693 298h1v6h-1zM696 313h1v3h-1zM697 316h1v2h-1zM698 297h1v9h-1zM699 315h1v3h-1zM700 292h1v20h-1zM701 307h1v2h-1zM702 312h1v4h-1zM703 309h1v4h-1zM704 313h1v3h-1zM705 297h1v10h-1zM706 312h1v3h-1zM708 304h1v9h-1zM709 310h1v8h-1zM710 307h1v5h-1zM711 301h1v9h-1zM712 300h1v13h-1zM713 295h1v17h-1zM714 312h1v6h-1zM715 297h1v10h-1zM716 309h1v6h-1zM717 301h1v9h-1zM718 303h1v9h-1zM719 301h1v8h-1zM720 303h1v7h-1zM721 292h1v18h-1zM721 285h1v7h-1zM722 292h1v15h-1zM722 285h1v7h-1zM723 310h1v3h-1zM724 298h1v15h-1zM725 303h1v7h-1zM726 292h1v20h-1zM727 307h1v8h-1zM728 307h1v2h-1zM729 309h1v4h-1z"/>
<rect x="60" y="318" width="670" height="2" fill="url(#dot)"/>
<rect x="59.80" y="319.5" width="1.4" height="5.3" fill="#D4D4D4" shape-rendering="auto"/>
<rect x="88.08" y="319.5" width="1.4" height="5.3" fill="#D4D4D4" shape-rendering="auto"/>
<rect x="116.36" y="319.5" width="1.4" height="5.3" fill="#D4D4D4" shape-rendering="auto"/>
<rect x="144.64" y="319.5" width="1.4" height="5.3" fill="#D4D4D4" shape-rendering="auto"/>
<rect x="172.92" y="319.5" width="1.4" height="5.3" fill="#D4D4D4" shape-rendering="auto"/>
<rect x="201.20" y="319.5" width="1.4" height="5.3" fill="#D4D4D4" shape-rendering="auto"/>
<rect x="229.48" y="319.5" width="1.4" height="5.3" fill="#D4D4D4" shape-rendering="auto"/>
<rect x="257.76" y="319.5" width="1.4" height="5.3" fill="#D4D4D4" shape-rendering="auto"/>
<rect x="286.04" y="319.5" width="1.4" height="5.3" fill="#D4D4D4" shape-rendering="auto"/>
<rect x="314.32" y="319.5" width="1.4" height="5.3" fill="#D4D4D4" shape-rendering="auto"/>
<rect x="342.60" y="319.5" width="1.4" height="5.3" fill="#D4D4D4" shape-rendering="auto"/>
<rect x="370.88" y="319.5" width="1.4" height="5.3" fill="#D4D4D4" shape-rendering="auto"/>
<rect x="399.16" y="319.5" width="1.4" height="5.3" fill="#D4D4D4" shape-rendering="auto"/>
<rect x="427.44" y="319.5" width="1.4" height="5.3" fill="#D4D4D4" shape-rendering="auto"/>
<rect x="455.72" y="319.5" width="1.4" height="5.3" fill="#D4D4D4" shape-rendering="auto"/>
<rect x="484.00" y="319.5" width="1.4" height="5.3" fill="#D4D4D4" shape-rendering="auto"/>
<rect x="512.28" y="319.5" width="1.4" height="5.3" fill="#D4D4D4" shape-rendering="auto"/>
<rect x="540.56" y="319.5" width="1.4" height="5.3" fill="#D4D4D4" shape-rendering="auto"/>
<rect x="568.84" y="319.5" width="1.4" height="5.3" fill="#D4D4D4" shape-rendering="auto"/>
<rect x="597.12" y="319.5" width="1.4" height="5.3" fill="#D4D4D4" shape-rendering="auto"/>
<rect x="625.40" y="319.5" width="1.4" height="5.3" fill="#D4D4D4" shape-rendering="auto"/>
<rect x="653.68" y="319.5" width="1.4" height="5.3" fill="#D4D4D4" shape-rendering="auto"/>
<rect x="681.96" y="319.5" width="1.4" height="5.3" fill="#D4D4D4" shape-rendering="auto"/>
<rect x="710.24" y="319.5" width="1.4" height="5.3" fill="#D4D4D4" shape-rendering="auto"/>
<rect x="0" y="0" width="754" height="2" fill="#DADADA"/>
<rect x="0" y="2" width="1" height="448" fill="#E2E2E2"/>
<rect x="753" y="2" width="1" height="448" fill="#E2E2E2"/>
<rect x="0" y="449" width="754" height="1" fill="#E2E2E2"/>
<path stroke="#D8D8D8" stroke-width="1" stroke-dasharray="2 1" fill="none" d="M1.5 2V449 M752.5 2V449"/>
<path stroke="#D8D8D8" stroke-width="1" stroke-dasharray="2 1" fill="none" d="M1 448.5H753"/>
<g shape-rendering="auto" text-rendering="geometricPrecision">
<text y="43.60" font-size="25.90"><tspan x="282.60" textLength="82.29" lengthAdjust="spacingAndGlyphs">Classes</tspan> <tspan x="375.70" textLength="27.21" lengthAdjust="spacingAndGlyphs">13</tspan> <tspan x="410.40" textLength="22.80" lengthAdjust="spacingAndGlyphs">et</tspan> <tspan x="441.00" textLength="28.01" lengthAdjust="spacingAndGlyphs">14</tspan></text>
<text y="82.90" font-size="17.27"><tspan x="15.81" textLength="28.41" lengthAdjust="spacingAndGlyphs">160</tspan></text>
<text y="113.90" font-size="17.27"><tspan x="15.81" textLength="28.41" lengthAdjust="spacingAndGlyphs">140</tspan></text>
<text y="143.90" font-size="17.27"><tspan x="15.81" textLength="28.41" lengthAdjust="spacingAndGlyphs">120</tspan></text>
<text y="173.90" font-size="17.27"><tspan x="15.81" textLength="28.41" lengthAdjust="spacingAndGlyphs">100</tspan></text>
<text y="203.90" font-size="17.27"><tspan x="25.27" textLength="18.94" lengthAdjust="spacingAndGlyphs">80</tspan></text>
<text y="233.90" font-size="17.27"><tspan x="25.27" textLength="18.94" lengthAdjust="spacingAndGlyphs">60</tspan></text>
<text y="264.80" font-size="17.27"><tspan x="25.27" textLength="18.94" lengthAdjust="spacingAndGlyphs">40</tspan></text>
<text y="294.80" font-size="17.27"><tspan x="25.27" textLength="18.94" lengthAdjust="spacingAndGlyphs">20</tspan></text>
<text y="324.90" font-size="17.27"><tspan x="34.74" textLength="9.47" lengthAdjust="spacingAndGlyphs">0</tspan></text>
<text transform="translate(67.20 386.95) rotate(-90)" y="0.00" font-size="17.27"><tspan x="-0.08" textLength="31.43" lengthAdjust="spacingAndGlyphs">janv</tspan><tspan x="31.34" textLength="5.71" lengthAdjust="spacingAndGlyphs">-</tspan><tspan x="36.63" textLength="18.94" lengthAdjust="spacingAndGlyphs">39</tspan></text>
<text transform="translate(95.48 378.89) rotate(-90)" y="0.00" font-size="17.27"><tspan x="-0.04" textLength="22.88" lengthAdjust="spacingAndGlyphs">juil</tspan><tspan x="22.85" textLength="5.71" lengthAdjust="spacingAndGlyphs">-</tspan><tspan x="28.56" textLength="18.94" lengthAdjust="spacingAndGlyphs">41</tspan></text>
<text transform="translate(123.76 386.95) rotate(-90)" y="0.00" font-size="17.27"><tspan x="-0.08" textLength="31.43" lengthAdjust="spacingAndGlyphs">janv</tspan><tspan x="31.34" textLength="5.71" lengthAdjust="spacingAndGlyphs">-</tspan><tspan x="36.63" textLength="18.94" lengthAdjust="spacingAndGlyphs">44</tspan></text>
<text transform="translate(152.04 378.89) rotate(-90)" y="0.00" font-size="17.27"><tspan x="-0.04" textLength="22.88" lengthAdjust="spacingAndGlyphs">juil</tspan><tspan x="22.85" textLength="5.71" lengthAdjust="spacingAndGlyphs">-</tspan><tspan x="28.56" textLength="18.94" lengthAdjust="spacingAndGlyphs">46</tspan></text>
<text transform="translate(180.32 386.95) rotate(-90)" y="0.00" font-size="17.27"><tspan x="-0.08" textLength="31.43" lengthAdjust="spacingAndGlyphs">janv</tspan><tspan x="31.34" textLength="5.71" lengthAdjust="spacingAndGlyphs">-</tspan><tspan x="36.63" textLength="18.94" lengthAdjust="spacingAndGlyphs">49</tspan></text>
<text transform="translate(208.60 378.89) rotate(-90)" y="0.00" font-size="17.27"><tspan x="-0.04" textLength="22.88" lengthAdjust="spacingAndGlyphs">juil</tspan><tspan x="22.85" textLength="5.71" lengthAdjust="spacingAndGlyphs">-</tspan><tspan x="28.56" textLength="18.94" lengthAdjust="spacingAndGlyphs">51</tspan></text>
<text transform="translate(236.88 386.95) rotate(-90)" y="0.00" font-size="17.27"><tspan x="-0.08" textLength="31.43" lengthAdjust="spacingAndGlyphs">janv</tspan><tspan x="31.34" textLength="5.71" lengthAdjust="spacingAndGlyphs">-</tspan><tspan x="36.63" textLength="18.94" lengthAdjust="spacingAndGlyphs">54</tspan></text>
<text transform="translate(265.16 378.89) rotate(-90)" y="0.00" font-size="17.27"><tspan x="-0.04" textLength="22.88" lengthAdjust="spacingAndGlyphs">juil</tspan><tspan x="22.85" textLength="5.71" lengthAdjust="spacingAndGlyphs">-</tspan><tspan x="28.56" textLength="18.94" lengthAdjust="spacingAndGlyphs">56</tspan></text>
<text transform="translate(293.44 386.95) rotate(-90)" y="0.00" font-size="17.27"><tspan x="-0.08" textLength="31.43" lengthAdjust="spacingAndGlyphs">janv</tspan><tspan x="31.34" textLength="5.71" lengthAdjust="spacingAndGlyphs">-</tspan><tspan x="36.63" textLength="18.94" lengthAdjust="spacingAndGlyphs">59</tspan></text>
<text transform="translate(321.72 378.89) rotate(-90)" y="0.00" font-size="17.27"><tspan x="-0.04" textLength="22.88" lengthAdjust="spacingAndGlyphs">juil</tspan><tspan x="22.85" textLength="5.71" lengthAdjust="spacingAndGlyphs">-</tspan><tspan x="28.56" textLength="18.94" lengthAdjust="spacingAndGlyphs">61</tspan></text>
<text transform="translate(350.00 386.95) rotate(-90)" y="0.00" font-size="17.27"><tspan x="-0.08" textLength="31.43" lengthAdjust="spacingAndGlyphs">janv</tspan><tspan x="31.34" textLength="5.71" lengthAdjust="spacingAndGlyphs">-</tspan><tspan x="36.63" textLength="18.94" lengthAdjust="spacingAndGlyphs">64</tspan></text>
<text transform="translate(378.28 378.89) rotate(-90)" y="0.00" font-size="17.27"><tspan x="-0.04" textLength="22.88" lengthAdjust="spacingAndGlyphs">juil</tspan><tspan x="22.85" textLength="5.71" lengthAdjust="spacingAndGlyphs">-</tspan><tspan x="28.56" textLength="18.94" lengthAdjust="spacingAndGlyphs">66</tspan></text>
<text transform="translate(406.56 386.95) rotate(-90)" y="0.00" font-size="17.27"><tspan x="-0.08" textLength="31.43" lengthAdjust="spacingAndGlyphs">janv</tspan><tspan x="31.34" textLength="5.71" lengthAdjust="spacingAndGlyphs">-</tspan><tspan x="36.63" textLength="18.94" lengthAdjust="spacingAndGlyphs">69</tspan></text>
<text transform="translate(434.84 378.89) rotate(-90)" y="0.00" font-size="17.27"><tspan x="-0.04" textLength="22.88" lengthAdjust="spacingAndGlyphs">juil</tspan><tspan x="22.85" textLength="5.71" lengthAdjust="spacingAndGlyphs">-</tspan><tspan x="28.56" textLength="18.94" lengthAdjust="spacingAndGlyphs">71</tspan></text>
<text transform="translate(463.12 386.95) rotate(-90)" y="0.00" font-size="17.27"><tspan x="-0.08" textLength="31.43" lengthAdjust="spacingAndGlyphs">janv</tspan><tspan x="31.34" textLength="5.71" lengthAdjust="spacingAndGlyphs">-</tspan><tspan x="36.63" textLength="18.94" lengthAdjust="spacingAndGlyphs">74</tspan></text>
<text transform="translate(491.40 378.89) rotate(-90)" y="0.00" font-size="17.27"><tspan x="-0.04" textLength="22.88" lengthAdjust="spacingAndGlyphs">juil</tspan><tspan x="22.85" textLength="5.71" lengthAdjust="spacingAndGlyphs">-</tspan><tspan x="28.56" textLength="18.94" lengthAdjust="spacingAndGlyphs">76</tspan></text>
<text transform="translate(519.68 386.95) rotate(-90)" y="0.00" font-size="17.27"><tspan x="-0.08" textLength="31.43" lengthAdjust="spacingAndGlyphs">janv</tspan><tspan x="31.34" textLength="5.71" lengthAdjust="spacingAndGlyphs">-</tspan><tspan x="36.63" textLength="18.94" lengthAdjust="spacingAndGlyphs">79</tspan></text>
<text transform="translate(547.96 378.89) rotate(-90)" y="0.00" font-size="17.27"><tspan x="-0.04" textLength="22.88" lengthAdjust="spacingAndGlyphs">juil</tspan><tspan x="22.85" textLength="5.71" lengthAdjust="spacingAndGlyphs">-</tspan><tspan x="28.56" textLength="18.94" lengthAdjust="spacingAndGlyphs">81</tspan></text>
<text transform="translate(576.24 386.95) rotate(-90)" y="0.00" font-size="17.27"><tspan x="-0.08" textLength="31.43" lengthAdjust="spacingAndGlyphs">janv</tspan><tspan x="31.34" textLength="5.71" lengthAdjust="spacingAndGlyphs">-</tspan><tspan x="36.63" textLength="18.94" lengthAdjust="spacingAndGlyphs">84</tspan></text>
<text transform="translate(604.52 378.89) rotate(-90)" y="0.00" font-size="17.27"><tspan x="-0.04" textLength="22.88" lengthAdjust="spacingAndGlyphs">juil</tspan><tspan x="22.85" textLength="5.71" lengthAdjust="spacingAndGlyphs">-</tspan><tspan x="28.56" textLength="18.94" lengthAdjust="spacingAndGlyphs">86</tspan></text>
<text transform="translate(632.80 386.95) rotate(-90)" y="0.00" font-size="17.27"><tspan x="-0.08" textLength="31.43" lengthAdjust="spacingAndGlyphs">janv</tspan><tspan x="31.34" textLength="5.71" lengthAdjust="spacingAndGlyphs">-</tspan><tspan x="36.63" textLength="18.94" lengthAdjust="spacingAndGlyphs">89</tspan></text>
<text transform="translate(661.08 378.89) rotate(-90)" y="0.00" font-size="17.27"><tspan x="-0.04" textLength="22.88" lengthAdjust="spacingAndGlyphs">juil</tspan><tspan x="22.85" textLength="5.71" lengthAdjust="spacingAndGlyphs">-</tspan><tspan x="28.56" textLength="18.94" lengthAdjust="spacingAndGlyphs">91</tspan></text>
<text transform="translate(689.36 386.95) rotate(-90)" y="0.00" font-size="17.27"><tspan x="-0.08" textLength="31.43" lengthAdjust="spacingAndGlyphs">janv</tspan><tspan x="31.34" textLength="5.71" lengthAdjust="spacingAndGlyphs">-</tspan><tspan x="36.63" textLength="18.94" lengthAdjust="spacingAndGlyphs">94</tspan></text>
<text transform="translate(717.64 378.89) rotate(-90)" y="0.00" font-size="17.27"><tspan x="-0.04" textLength="22.88" lengthAdjust="spacingAndGlyphs">juil</tspan><tspan x="22.85" textLength="5.71" lengthAdjust="spacingAndGlyphs">-</tspan><tspan x="28.56" textLength="18.94" lengthAdjust="spacingAndGlyphs">96</tspan></text>
<rect x="276" y="413.5" width="10.2" height="10.4" fill="#4472C4"/>
<text y="424.30" font-size="17.27"><tspan x="290.50" textLength="23.92" lengthAdjust="spacingAndGlyphs">13:</tspan> <tspan x="318.64" textLength="52.94" lengthAdjust="spacingAndGlyphs">Guerre</tspan></text>
<rect x="391.3" y="413.5" width="10.2" height="10.4" fill="#ED7D31"/>
<text y="424.30" font-size="17.27"><tspan x="406.30" textLength="23.92" lengthAdjust="spacingAndGlyphs">14:</tspan> <tspan x="434.44" textLength="50.81" lengthAdjust="spacingAndGlyphs">Armée</tspan></text>
</g>
</svg></body></html>
